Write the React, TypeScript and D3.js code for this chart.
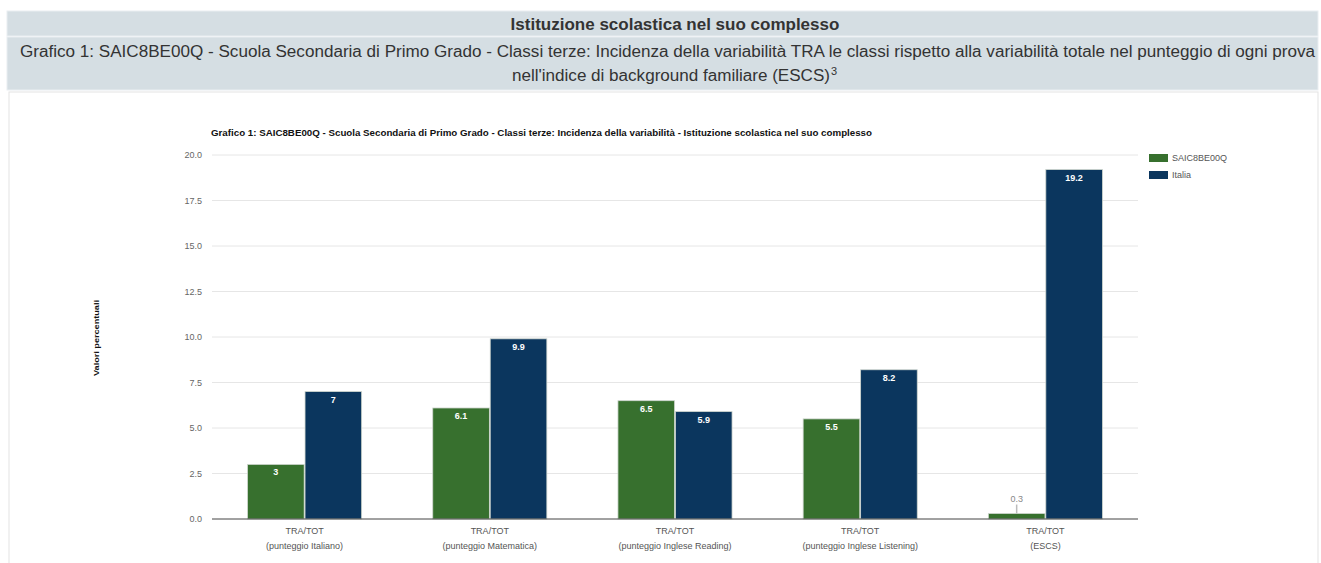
import React from "react";
import * as d3 from "d3";

const categories = [
  ["TRA/TOT", "(punteggio Italiano)"],
  ["TRA/TOT", "(punteggio Matematica)"],
  ["TRA/TOT", "(punteggio Inglese Reading)"],
  ["TRA/TOT", "(punteggio Inglese Listening)"],
  ["TRA/TOT", "(ESCS)"],
];
const seriesNames = ["SAIC8BE00Q", "Italia"];
const schoolValues = [3, 6.1, 6.5, 5.5, 0.3];
const italiaValues = [7, 9.9, 5.9, 8.2, 19.2];
const yTicks = [0, 2.5, 5, 7.5, 10, 12.5, 15, 17.5, 20];
const colors = ["#37702e", "#0b365e"];

const W = 1321;
const H = 563;
const left = 212;
const right = 1138;
const top = 155;
const bottom = 519;

export default function App() {
  const catIds = categories.map((_, i) => String(i));
  const x0 = d3.scaleBand<string>().domain(catIds).range([left, right]).paddingInner(0.384).paddingOuter(0.192);
  const x1 = d3.scaleBand<string>().domain(seriesNames).range([0, x0.bandwidth()]).paddingInner(0.015);
  const y = d3.scaleLinear().domain([0, 20]).range([bottom, top]);
  const series = [schoolValues, italiaValues];
  const font = "'Liberation Sans', Arial, sans-serif";

  return (
    <svg width={W} height={H} style={{ position: "absolute", left: 0, top: 0 }} fontFamily={font}>
      <rect x={0} y={0} width={W} height={H} fill="#fff" />
      {/* header */}
      <rect x={7} y={11} width={1311} height={25} fill="#d5dee3" stroke="#e9eef1" />
      <rect x={7} y={37} width={1311} height={53} fill="#d5dee3" stroke="#e9eef1" />
      <text x={675} y={30} textAnchor="middle" fontSize={17} fontWeight="bold" fill="#333">
        Istituzione scolastica nel suo complesso
      </text>
      <text x={20} y={57} fontSize={16} fill="#333" textLength={1295} lengthAdjust="spacingAndGlyphs">
        Grafico 1: SAIC8BE00Q - Scuola Secondaria di Primo Grado - Classi terze: Incidenza della variabilità TRA le classi rispetto alla variabilità totale nel punteggio di ogni prova
      </text>
      <text x={512} y={81} fontSize={16} fill="#333" textLength={318} lengthAdjust="spacingAndGlyphs">
        nell'indice di background familiare (ESCS)
      </text>
      <text x={831} y={75} fontSize={11} fill="#333">3</text>
      {/* panel */}
      <rect x={9} y={92} width={1309} height={500} fill="#fff" stroke="#e3e3e3" />

      {/* chart title */}
      <text x={211} y={136} fontSize={8.5} fontWeight="bold" fill="#111" textLength={661} lengthAdjust="spacingAndGlyphs">
        Grafico 1: SAIC8BE00Q - Scuola Secondaria di Primo Grado - Classi terze: Incidenza della variabilità - Istituzione scolastica nel suo complesso
      </text>

      {/* grid */}
      {yTicks.map((t) => (
        <g key={t}>
          {t !== 0 && <line x1={left} x2={right} y1={y(t)} y2={y(t)} stroke="#e6e6e6" strokeWidth={1} />}
          <text x={202} y={y(t) + 3} textAnchor="end" fontSize={9} fill="#666">
            {t.toFixed(1)}
          </text>
        </g>
      ))}

      {/* y title */}
      <text transform={`translate(99,338) rotate(-90)`} textAnchor="middle" fontSize={8} fontWeight="bold" fill="#111" textLength={76} lengthAdjust="spacingAndGlyphs">
        Valori percentuali
      </text>

      {/* bars */}
      {catIds.map((c, i) => (
        <g key={c}>
          {series.map((vals, s) => {
            const v = vals[i];
            const bx = (x0(c) as number) + (x1(seriesNames[s]) as number);
            const bw = x1.bandwidth();
            const by = y(v);
            const bh = bottom - by;
            const small = bh < 15;
            return (
              <g key={s}>
                <rect x={bx} y={by} width={bw} height={bh} fill={colors[s]} stroke="#cfd6cf" strokeWidth={0.8} />
                {small ? (
                  <>
                    <line x1={bx + bw / 2} x2={bx + bw / 2} y1={by} y2={by - 9} stroke="#bbb" strokeWidth={1.5} />
                    <text x={bx + bw / 2} y={by - 12} textAnchor="middle" fontSize={9} fill="#888">
                      {v}
                    </text>
                  </>
                ) : (
                  <text x={bx + bw / 2} y={by + 11} textAnchor="middle" fontSize={9} fontWeight="bold" fill="#fff">
                    {v}
                  </text>
                )}
              </g>
            );
          })}
          <text x={(x0(c) as number) + x0.bandwidth() / 2} y={534} textAnchor="middle" fontSize={9} fill="#555">
            {categories[i][0]}
          </text>
          <text x={(x0(c) as number) + x0.bandwidth() / 2} y={549} textAnchor="middle" fontSize={9} fill="#555">
            {categories[i][1]}
          </text>
        </g>
      ))}

      {/* axis */}
      <line x1={left} x2={right} y1={bottom} y2={bottom} stroke="#444" strokeWidth={1} />

      {/* legend */}
      {seriesNames.map((n, s) => (
        <g key={n}>
          <rect x={1149} y={154 + s * 17} width={19} height={8} fill={colors[s]} />
          <text x={1172} y={161 + s * 17} fontSize={9} fill="#555">
            {n}
          </text>
        </g>
      ))}
    </svg>
  );
}
